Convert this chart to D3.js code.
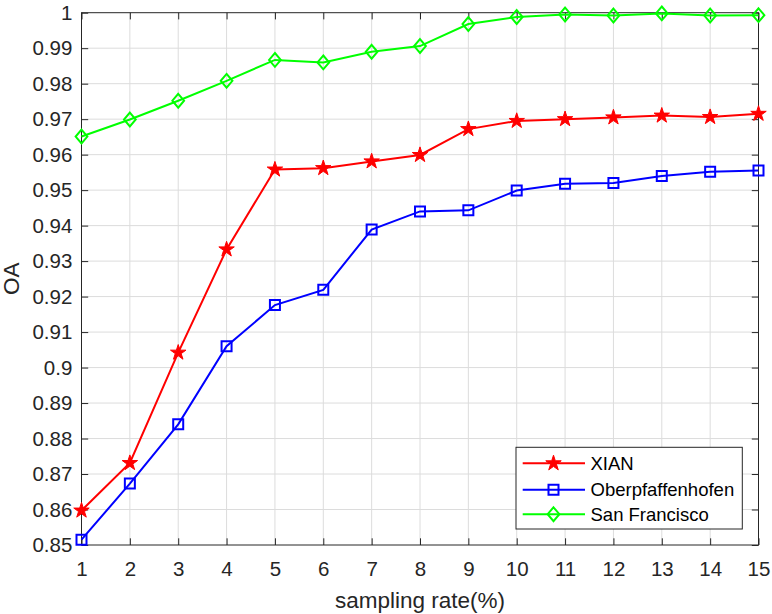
<!DOCTYPE html>
<html>
<head>
<meta charset="utf-8">
<script src="https://cdn.jsdelivr.net/npm/d3@7"></script>
<style>
  body { margin: 0; background: #fff; }
  svg { display: block; font-family: "Liberation Sans", Arial, sans-serif; }
</style>
</head>
<body>
<svg id="svg" width="772" height="614"></svg>
<script>
// values
const rates = [1, 2, 3, 4, 5, 6, 7, 8, 9, 10, 11, 12, 13, 14, 15];
const xian = [0.8597, 0.8731, 0.9042, 0.9333, 0.9558, 0.9562, 0.9581, 0.9599,
  0.9672, 0.9695, 0.9700, 0.9705, 0.9710, 0.9706, 0.9715];
const oberpfaffenhofen = [0.8515, 0.8673, 0.8840, 0.9060, 0.9176, 0.9219, 0.9389, 0.9440,
  0.9443, 0.9499, 0.9518, 0.9520, 0.9540, 0.9552, 0.9555];
const sanFrancisco = [0.9651, 0.9699, 0.9752, 0.9808, 0.9867, 0.9860, 0.9890, 0.9906,
  0.9968, 0.9988, 0.9995, 0.9992, 0.9998, 0.9992, 0.9993];
const yTicks = [0.85, 0.86, 0.87, 0.88, 0.89, 0.9, 0.91, 0.92, 0.93, 0.94,
  0.95, 0.96, 0.97, 0.98, 0.99, 1];
const seriesNames = ["XIAN", "Oberpfaffenhofen", "San Francisco"];

const svg = d3.select("#svg");
const plot = { left: 81.5, right: 758.5, top: 12.7, bottom: 545 };
const axisColor = "#262626";
const tickLen = 6.7;
const tickFont = 20.5, labelFont = 22.5, legendFont = 18.5;

const xScale = d3.scaleLinear().domain([1, 15]).range([plot.left, plot.right]);
const yScale = d3.scaleLinear().domain([0.85, 1]).range([plot.bottom, plot.top]);

// matlab style diamond, a bit wider than d3's
const matDiamond = {
  draw(context, size) {
    const h = Math.sqrt(size) / 2, w = h * 0.85;
    context.moveTo(0, -h);
    context.lineTo(w, 0);
    context.lineTo(0, h);
    context.lineTo(-w, 0);
    context.closePath();
  }
};

const series = [
  { name: seriesNames[0], values: xian, color: "#ff0000", symbol: d3.symbolStar, size: 74, filled: true },
  { name: seriesNames[1], values: oberpfaffenhofen, color: "#0000ff", symbol: d3.symbolSquare, size: 100, filled: false },
  { name: seriesNames[2], values: sanFrancisco, color: "#00ff00", symbol: matDiamond, size: 190, filled: false }
];

// grid
const grid = svg.append("g").attr("stroke", "#dcdcdc").attr("stroke-width", 1);
grid.selectAll(".gx").data(rates.slice(1, -1)).join("line")
  .attr("x1", d => xScale(d)).attr("x2", d => xScale(d))
  .attr("y1", plot.top).attr("y2", plot.bottom);
grid.selectAll(".gy").data(yTicks.slice(1, -1)).join("line")
  .attr("x1", plot.left).attr("x2", plot.right)
  .attr("y1", d => yScale(d)).attr("y2", d => yScale(d));

// axes, ticks pointing inward
function styleAxis(g) {
  g.attr("font-size", tickFont).attr("font-family", null);
  g.select(".domain").remove();
  g.selectAll("line").attr("stroke", axisColor);
  g.selectAll("text").attr("fill", axisColor);
}

svg.append("g")
  .attr("transform", `translate(0, ${plot.bottom})`)
  .call(d3.axisBottom(xScale).tickValues(rates).tickSizeInner(-tickLen).tickSizeOuter(0).tickPadding(16.5))
  .call(styleAxis);
svg.append("g")
  .attr("transform", `translate(0, ${plot.top})`)
  .call(d3.axisTop(xScale).tickValues(rates).tickSizeInner(-tickLen).tickSizeOuter(0).tickFormat(""))
  .call(styleAxis);
svg.append("g")
  .attr("transform", `translate(${plot.left}, 0)`)
  .call(d3.axisLeft(yScale).tickValues(yTicks).tickSizeInner(-tickLen).tickSizeOuter(0)
    .tickPadding(9.2).tickFormat(d => String(+d.toFixed(2))))
  .call(styleAxis);
svg.append("g")
  .attr("transform", `translate(${plot.right}, 0)`)
  .call(d3.axisRight(yScale).tickValues(yTicks).tickSizeInner(-tickLen).tickSizeOuter(0).tickFormat(""))
  .call(styleAxis);

svg.append("rect")
  .attr("x", plot.left).attr("y", plot.top)
  .attr("width", plot.right - plot.left).attr("height", plot.bottom - plot.top)
  .attr("fill", "none").attr("stroke", axisColor).attr("stroke-width", 1);

// axis titles
svg.append("text")
  .attr("x", (plot.left + plot.right) / 2).attr("y", 607.5)
  .attr("text-anchor", "middle").attr("font-size", labelFont).attr("fill", axisColor)
  .text("sampling rate(%)");
svg.append("text")
  .attr("transform", `translate(18.5, ${(plot.top + plot.bottom) / 2}) rotate(-90)`)
  .attr("text-anchor", "middle").attr("font-size", labelFont).attr("fill", axisColor)
  .text("OA");

// lines and markers
const line = d3.line()
  .x((d, i) => xScale(rates[i]))
  .y(d => yScale(d));

series.forEach(s => {
  const g = svg.append("g");
  g.append("path")
    .datum(s.values)
    .attr("d", line)
    .attr("fill", "none")
    .attr("stroke", s.color)
    .attr("stroke-width", 2);
  g.selectAll("path.marker").data(s.values).join("path")
    .attr("class", "marker")
    .attr("transform", (d, i) => `translate(${xScale(rates[i])}, ${yScale(d)})`)
    .attr("d", d3.symbol().type(s.symbol).size(s.size))
    .attr("fill", s.filled ? s.color : "none")
    .attr("stroke", s.color)
    .attr("stroke-width", s.filled ? 1 : 2);
});

// legend
const legend = svg.append("g");
legend.append("rect")
  .attr("x", 516).attr("y", 447.3).attr("width", 226.3).attr("height", 81.7)
  .attr("fill", "#fff").attr("stroke", axisColor).attr("stroke-width", 1);
const rowY = [463.3, 489.8, 514.2];
series.forEach((s, i) => {
  const row = legend.append("g").attr("transform", `translate(0, ${rowY[i]})`);
  row.append("line")
    .attr("x1", 522.7).attr("x2", 585).attr("y1", 0).attr("y2", 0)
    .attr("stroke", s.color).attr("stroke-width", 2);
  row.append("path")
    .attr("transform", "translate(553.5, 0)")
    .attr("d", d3.symbol().type(s.symbol).size(s.size))
    .attr("fill", s.filled ? s.color : "none")
    .attr("stroke", s.color)
    .attr("stroke-width", s.filled ? 1 : 2);
  row.append("text")
    .attr("x", 590.5).attr("dy", "0.35em")
    .attr("font-size", legendFont).attr("fill", "#000")
    .text(s.name);
});
</script>
</body>
</html>
